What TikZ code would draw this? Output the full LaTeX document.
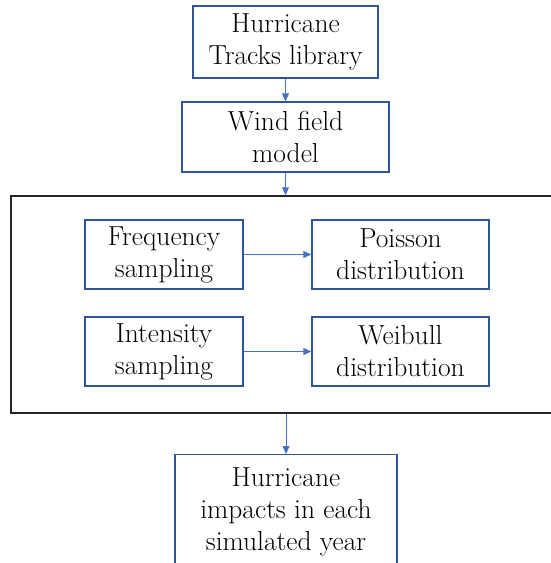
\documentclass[tikz,border=0pt]{standalone}
\usetikzlibrary{arrows.meta}

\definecolor{boxblue}{HTML}{4472C4}
\definecolor{edgeblue}{HTML}{2F5597}

\tikzset{
  stagebox/.style={draw=edgeblue, line width=1.3pt, fill=white, align=center,
    font=\fontsize{27.5}{32}\selectfont, inner sep=0pt},
  flow/.style={-{Triangle[length=8pt,width=7pt]}, draw=boxblue, line width=1pt}
}

\begin{document}
\begin{tikzpicture}[x=1pt, y=-1pt]
\useasboundingbox (0,0) rectangle (551,563);
\clip (0,0) rectangle (551,563);

% Top of the chain
\node[stagebox, minimum width=185pt, minimum height=72pt] (tracks) at (285.5,42) {Hurricane\\Tracks library};
\node[stagebox, minimum width=207pt, minimum height=70pt] (wind) at (285.5,137) {Wind field\\model};

% Sampling block
\node[draw=black!85, line width=1.5pt, minimum width=549pt, minimum height=217pt, inner sep=0pt] (frame) at (285.5,304.5) {};
\node[stagebox, minimum width=158pt, minimum height=69pt] (freq) at (164,254.5) {Frequency\\sampling};
\node[stagebox, minimum width=177pt, minimum height=69pt] (poisson) at (400.5,254.5) {Poisson\\distribution};
\node[stagebox, minimum width=158pt, minimum height=69pt] (inten) at (164,351.5) {Intensity\\sampling};
\node[stagebox, minimum width=177pt, minimum height=69pt] (weibull) at (400.5,351.5) {Weibull\\distribution};

% Result
\node[stagebox, anchor=north, minimum width=222pt, minimum height=114pt] (impacts) at (286,454) {Hurricane\\impacts in each\\simulated year};

% Connectors
\draw[flow] (tracks) -- (wind);
\draw[flow] (wind) -- (frame);
\draw[flow] (freq) -- (poisson);
\draw[flow] (inten) -- (weibull);
\draw[flow] (frame.south -| impacts.north) -- (impacts);

\end{tikzpicture}
\end{document}
